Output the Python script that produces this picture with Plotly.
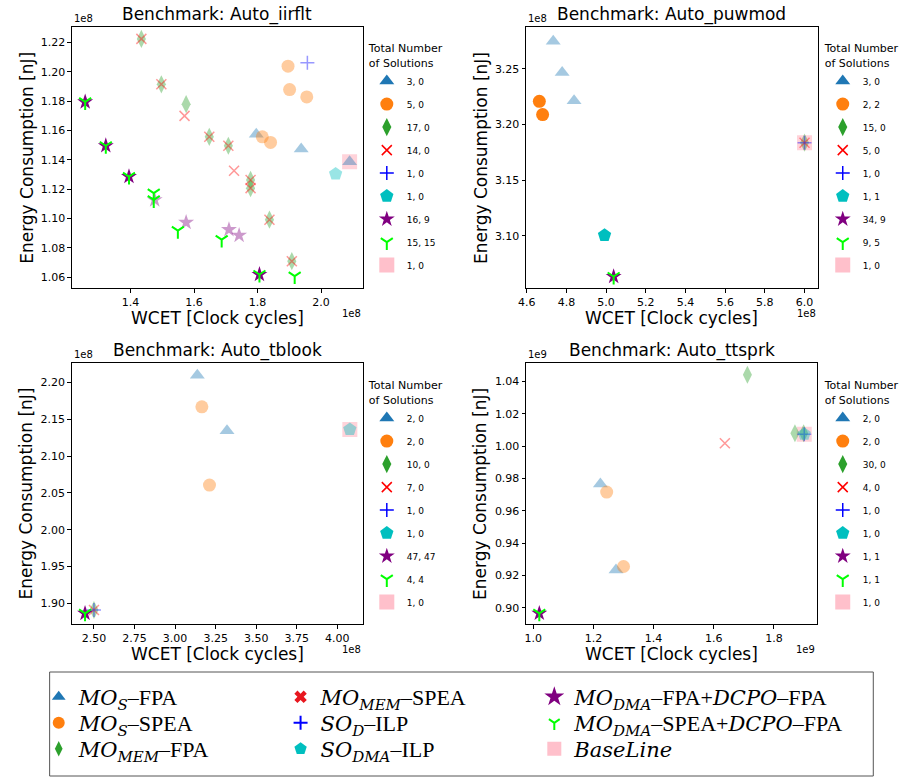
import plotly.graph_objects as go

W, H = 906, 777

# ---------------- data: (WCET [clock cycles], energy [nJ], on Pareto front) ----------------
IIRFLT_MOS_FPA = [(1.796e8, 1.1575e8, 0), (1.9375e8, 1.1474e8, 0), (2.090e8, 1.1387e8, 0)]
IIRFLT_MOS_SPEA = [(1.896e8, 1.2039e8, 0), (1.901e8, 1.1879e8, 0), (1.955e8, 1.1829e8, 0),
                   (1.815e8, 1.1557e8, 0), (1.841e8, 1.1519e8, 0)]
IIRFLT_MEM_FPA = [(1.434e8, 1.2225e8, 0), (1.497e8, 1.1915e8, 0), (1.575e8, 1.1780e8, 0),
                  (1.648e8, 1.1557e8, 0), (1.708e8, 1.1496e8, 0), (1.778e8, 1.1263e8, 0),
                  (1.778e8, 1.1207e8, 0), (1.8375e8, 1.0992e8, 0), (1.908e8, 1.0709e8, 0)]
IIRFLT_MEM_SPEA = [(1.434e8, 1.2225e8, 0), (1.497e8, 1.1915e8, 0), (1.570e8, 1.1700e8, 0),
                   (1.648e8, 1.1557e8, 0), (1.708e8, 1.1496e8, 0), (1.726e8, 1.1326e8, 0),
                   (1.778e8, 1.1263e8, 0), (1.778e8, 1.1207e8, 0), (1.8375e8, 1.0992e8, 0),
                   (1.908e8, 1.0709e8, 0)]
IIRFLT_SOD_ILP = [(1.957e8, 1.2062e8, 0)]
IIRFLT_SODMA_ILP = [(2.046e8, 1.1304e8, 0)]
IIRFLT_DMA_FPA = [(1.476e8, 1.1127e8, 0), (1.575e8, 1.0973e8, 0), (1.710e8, 1.0924e8, 0),
                  (1.742e8, 1.0885e8, 0), (1.257e8, 1.1795e8, 1), (1.322e8, 1.1496e8, 1),
                  (1.395e8, 1.1286e8, 1), (1.806e8, 1.0618e8, 1)]
IIRFLT_DMA_SPEA = [(1.257e8, 1.1795e8, 1), (1.322e8, 1.1496e8, 1), (1.395e8, 1.1286e8, 1),
                   (1.806e8, 1.0618e8, 1), (1.473e8, 1.1173e8, 1), (1.473e8, 1.1127e8, 1),
                   (1.549e8, 1.0917e8, 1), (1.687e8, 1.0856e8, 1), (1.917e8, 1.0607e8, 1)]
IIRFLT_BASELINE = [(2.090e8, 1.1387e8, 0)]
IIRFLT_COUNTS = ["3, 0", "5, 0", "17, 0", "14, 0", "1, 0", "1, 0", "16, 9", "15, 15", "1, 0"]

PUWMOD_MOS_FPA = [(4.7335e8, 3.2750e8, 0), (4.7785e8, 3.2467e8, 0), (4.8385e8, 3.2215e8, 0)]
PUWMOD_MOS_SPEA = [(4.6635e8, 3.2209e8, 1), (4.680e8, 3.2090e8, 1)]
PUWMOD_MEM_FPA = [(6.000e8, 3.1837e8, 0)]
PUWMOD_MEM_SPEA = [(6.000e8, 3.1837e8, 0)]
PUWMOD_SOD_ILP = [(6.000e8, 3.1837e8, 0)]
PUWMOD_SODMA_ILP = [(4.992e8, 3.1005e8, 1)]
PUWMOD_DMA_FPA = [(5.038e8, 3.0634e8, 1)]
PUWMOD_DMA_SPEA = [(5.038e8, 3.0634e8, 1)]
PUWMOD_BASELINE = [(6.000e8, 3.1837e8, 0)]
PUWMOD_COUNTS = ["3, 0", "2, 2", "15, 0", "5, 0", "1, 0", "1, 1", "34, 9", "9, 5", "1, 0"]

TBLOOK_MOS_FPA = [(3.137e8, 2.2099e8, 0), (3.320e8, 2.1343e8, 0)]
TBLOOK_MOS_SPEA = [(3.165e8, 2.1669e8, 0), (3.212e8, 2.0606e8, 0)]
TBLOOK_MEM_FPA = [(2.500e8, 1.8909e8, 0)]
TBLOOK_MEM_SPEA = [(2.500e8, 1.8909e8, 0)]
TBLOOK_SOD_ILP = [(2.500e8, 1.8909e8, 0)]
TBLOOK_SODMA_ILP = [(4.077e8, 2.1362e8, 0)]
TBLOOK_DMA_FPA = [(2.445e8, 1.8864e8, 1)]
TBLOOK_DMA_SPEA = [(2.445e8, 1.8864e8, 1)]
TBLOOK_BASELINE = [(4.077e8, 2.1362e8, 0)]
TBLOOK_COUNTS = ["2, 0", "2, 0", "10, 0", "7, 0", "1, 0", "1, 0", "47, 47", "4, 4", "1, 0"]

TTSPRK_MOS_FPA = [(1.223e9, 0.9766e9, 0), (1.275e9, 0.9233e9, 0)]
TTSPRK_MOS_SPEA = [(1.244e9, 0.9716e9, 0), (1.300e9, 0.9255e9, 0)]
TTSPRK_MEM_FPA = [(1.712e9, 1.0442e9, 0), (1.870e9, 1.0080e9, 0), (1.899e9, 1.0080e9, 0)]
TTSPRK_MEM_SPEA = [(1.637e9, 1.0018e9, 0)]
TTSPRK_SOD_ILP = [(1.901e9, 1.0074e9, 0)]
TTSPRK_SODMA_ILP = [(1.901e9, 1.0074e9, 0)]
TTSPRK_DMA_FPA = [(1.020e9, 0.8965e9, 1)]
TTSPRK_DMA_SPEA = [(1.020e9, 0.8965e9, 1)]
TTSPRK_BASELINE = [(1.901e9, 1.0074e9, 0)]
TTSPRK_COUNTS = ["2, 0", "2, 0", "30, 0", "4, 0", "1, 0", "1, 0", "1, 1", "1, 1", "1, 0"]

SERIES_LABELS = [
    "{MO}{_S}–FPA",
    "{MO}{_S}–SPEA",
    "{MO}{_MEM}–FPA",
    "{MO}{_MEM}–SPEA",
    "{SO}{_D}–ILP",
    "{SO}{_DMA}–ILP",
    "{MO}{_DMA}–FPA+{DCPO}–FPA",
    "{MO}{_DMA}–SPEA+{DCPO}–FPA",
    "{BaseLine}",
]

# ---------------- styles ----------------
STYLES = [
    dict(symbol="triangle-up", size=13, color="#1f77b4", lw=0, dim=0.4),
    dict(symbol="circle", size=13, color="#ff7f0e", lw=0, dim=0.4),
    dict(symbol="diamond-tall", size=13, color="#2ca02c", lw=0, dim=0.4),
    dict(symbol="x-thin", size=10, color="red", lw=1.5, dim=0.4),
    dict(symbol="cross-thin", size=10, color="blue", lw=1.5, dim=0.4),
    dict(symbol="pentagon", size=14, color="#00bfbf", lw=0, dim=0.4),
    dict(symbol="star", size=12, color="purple", lw=0, dim=0.4),
    dict(symbol="y-down", size=10, color="lime", lw=2, dim=0.4),
    dict(symbol="square", size=15, color="pink", lw=0, dim=0.7),
]
BOTTOM_STYLES = [
    dict(symbol="triangle-up", size=12, color="#1f77b4", lw=0),
    dict(symbol="circle", size=12, color="#ff7f0e", lw=0),
    dict(symbol="diamond-tall", size=11, color="#2ca02c", lw=0),
    dict(symbol="x", size=11, color="#e8171f", lw=0),
    dict(symbol="cross-thin", size=10, color="blue", lw=2),
    dict(symbol="pentagon", size=13, color="#00bfbf", lw=0),
    dict(symbol="star", size=15, color="purple", lw=0),
    dict(symbol="y-down", size=9, color="lime", lw=2),
    dict(symbol="square", size=14, color="pink", lw=0),
]

BENCHES = [
    dict(title="Benchmark: Auto_iirflt", scale=1e8, exp="1e8",
         series=[IIRFLT_MOS_FPA, IIRFLT_MOS_SPEA, IIRFLT_MEM_FPA, IIRFLT_MEM_SPEA, IIRFLT_SOD_ILP,
                 IIRFLT_SODMA_ILP, IIRFLT_DMA_FPA, IIRFLT_DMA_SPEA, IIRFLT_BASELINE],
         counts=IIRFLT_COUNTS, xr=[1.2153, 2.1317], yr=[1.0526, 1.2306],
         xt=(1.4, 0.2, ".1f"), yt=(1.06, 0.02, ".2f"),
         box=(64.5, 358, 27, 288), leg=(362, 38)),
    dict(title="Benchmark: Auto_puwmod", scale=1e8, exp="1e8",
         series=[PUWMOD_MOS_FPA, PUWMOD_MOS_SPEA, PUWMOD_MEM_FPA, PUWMOD_MEM_SPEA, PUWMOD_SOD_ILP,
                 PUWMOD_SODMA_ILP, PUWMOD_DMA_FPA, PUWMOD_DMA_SPEA, PUWMOD_BASELINE],
         counts=PUWMOD_COUNTS, xr=[4.5967, 6.0668], yr=[3.0531, 3.2877],
         xt=(4.6, 0.2, ".1f"), yt=(3.10, 0.05, ".2f"),
         box=(522.7, 817, 27, 288), leg=(822, 38)),
    dict(title="Benchmark: Auto_tblook", scale=1e8, exp="1e8",
         series=[TBLOOK_MOS_FPA, TBLOOK_MOS_SPEA, TBLOOK_MEM_FPA, TBLOOK_MEM_SPEA, TBLOOK_SOD_ILP,
                 TBLOOK_SODMA_ILP, TBLOOK_DMA_FPA, TBLOOK_DMA_SPEA, TBLOOK_BASELINE],
         counts=TBLOOK_COUNTS, xr=[2.363, 4.159], yr=[1.8715, 2.2271],
         xt=(2.5, 0.25, ".2f"), yt=(1.90, 0.05, ".2f"),
         box=(64.3, 358.3, 362.5, 624.3), leg=(362, 375)),
    dict(title="Benchmark: Auto_ttsprk", scale=1e9, exp="1e9",
         series=[TTSPRK_MOS_FPA, TTSPRK_MOS_SPEA, TTSPRK_MEM_FPA, TTSPRK_MEM_SPEA, TTSPRK_SOD_ILP,
                 TTSPRK_SODMA_ILP, TTSPRK_DMA_FPA, TTSPRK_DMA_SPEA, TTSPRK_BASELINE],
         counts=TTSPRK_COUNTS, xr=[0.976, 1.945], yr=[0.8897, 1.0518],
         xt=(1.0, 0.2, ".1f"), yt=(0.90, 0.02, ".2f"),
         box=(522.7, 816.7, 362.5, 624.3), leg=(822, 375)),
]

SANS = "DejaVu Sans"
SERIF = "Liberation Serif"
MATH_SPAN = '<span style="font-family:DejaVu Serif;font-size:%dpx"><i>%s</i></span>'


def mathlabel(s):
    """{XY} -> italic math text, {_XY} -> italic subscript (matplotlib mathtext look)"""
    out, i = "", 0
    while i < len(s):
        if s[i] == "{":
            j = s.index("}", i)
            tok = s[i + 1:j]
            if tok.startswith("_"):
                out += "<sub>" + MATH_SPAN % (15, tok[1:]) + "</sub>"
            else:
                out += MATH_SPAN % (21, tok)
            i = j + 1
        else:
            out += s[i]
            i += 1
    return out


def px(x):
    return x / W


def py(y):
    return 1 - y / H


def ann(text, x, y, xa, ya, size, angle=0):
    return dict(text=text, x=px(x), y=py(y), xref="paper", yref="paper", xanchor=xa, yanchor=ya,
                showarrow=False, textangle=angle, font=dict(family=SANS, size=size, color="black"))


fig = go.Figure()
annotations = []
layout_axes = {}
legends = {}
DRAW_ORDER = [8, 0, 1, 2, 3, 4, 5, 6, 7]

for bi, b in enumerate(BENCHES):
    n = "" if bi == 0 else str(bi + 1)
    xa, ya = "x" + n, "y" + n
    x0, x1, y0, y1 = b["box"]
    sc = b["scale"]
    for si in DRAW_ORDER:
        pts = b["series"][si]
        st = STYLES[si]
        fig.add_trace(go.Scatter(
            x=[p[0] / sc for p in pts], y=[p[1] / sc for p in pts],
            mode="markers", xaxis=xa, yaxis=ya, showlegend=False, hoverinfo="skip",
            marker=dict(symbol=st["symbol"], size=st["size"], color=st["color"],
                        opacity=[1.0 if p[2] else st["dim"] for p in pts],
                        line=dict(width=st["lw"], color=st["color"]))))
    lg = "legend%d" % (bi + 2)
    for si in range(9):
        st = STYLES[si]
        fig.add_trace(go.Scatter(
            x=[None], y=[None], mode="markers", xaxis=xa, yaxis=ya,
            name=b["counts"][si], legend=lg, legendgroup="b%ds%d" % (bi, si), showlegend=True,
            marker=dict(symbol=st["symbol"], size=st["size"], color=st["color"],
                        line=dict(width=st["lw"], color=st["color"]))))
    lx, ly = b["leg"]
    legends[lg] = dict(
        x=px(lx), y=py(ly), xanchor="left", yanchor="top", bgcolor="rgba(0,0,0,0)",
        borderwidth=0, tracegroupgap=4,
        title=dict(text="Total Number<br>of Solutions", font=dict(family=SANS, size=11, color="black")),
        font=dict(family=SANS, size=9, color="black"))
    axcommon = dict(showline=True, mirror=True, linecolor="black", linewidth=1,
                    ticks="outside", ticklen=3.5, tickwidth=1, tickcolor="black",
                    showgrid=False, zeroline=False,
                    tickfont=dict(family=SANS, size=11, color="black"))
    layout_axes["xaxis" + n] = dict(axcommon, domain=[px(x0), px(x1)], range=b["xr"], anchor=ya,
                                    tick0=b["xt"][0], dtick=b["xt"][1], tickformat=b["xt"][2])
    layout_axes["yaxis" + n] = dict(axcommon, domain=[py(y1), py(y0)], range=b["yr"], anchor=xa,
                                    tick0=b["yt"][0], dtick=b["yt"][1], tickformat=b["yt"][2])
    cx, cy = (x0 + x1) / 2, (y0 + y1) / 2
    annotations += [
        ann(b["title"], cx, y0 - 12, "center", "middle", 17),
        ann("WCET [Clock cycles]", cx, y1 + 30, "center", "middle", 17),
        ann("Energy Consumption [nJ]", x0 - 46, cy, "center", "middle", 17, -90),
        ann(b["exp"], x0, y0 - 1, "left", "bottom", 10),
        ann(b["exp"], x1, y1 + 25, "right", "middle", 10),
    ]

# bottom (global) legend: 3 columns x 3 rows, one small legend per entry
COL_X = [31, 275, 531]
ROW_Y = [697, 723, 749]
for si in range(9):
    st = BOTTOM_STYLES[si]
    lg = "legend%d" % (6 + si)
    fig.add_trace(go.Scatter(
        x=[None], y=[None], mode="markers", xaxis="x", yaxis="y",
        name=mathlabel(SERIES_LABELS[si]), legend=lg, showlegend=True,
        marker=dict(symbol=st["symbol"], size=st["size"], color=st["color"],
                    line=dict(width=st["lw"], color=st["color"]))))
    legends[lg] = dict(
        x=px(COL_X[si // 3]), y=py(ROW_Y[si % 3]), xanchor="left", yanchor="middle",
        bgcolor="rgba(0,0,0,0)", borderwidth=0,
        font=dict(family=SERIF, size=22, color="black"))

fig.update_layout(
    width=W, height=H, margin=dict(l=0, r=0, t=0, b=0),
    paper_bgcolor="white", plot_bgcolor="white", showlegend=True,
    annotations=annotations,
    shapes=[dict(type="rect", xref="paper", yref="paper", x0=px(42), x1=px(873), y0=py(776), y1=py(672),
                 line=dict(color="#555555", width=1), fillcolor="rgba(0,0,0,0)")],
    **layout_axes, **legends)

fig.write_html("out.html", config={"displayModeBar": False},
               post_script="document.body.style.margin='0';document.body.style.overflow='hidden';")
